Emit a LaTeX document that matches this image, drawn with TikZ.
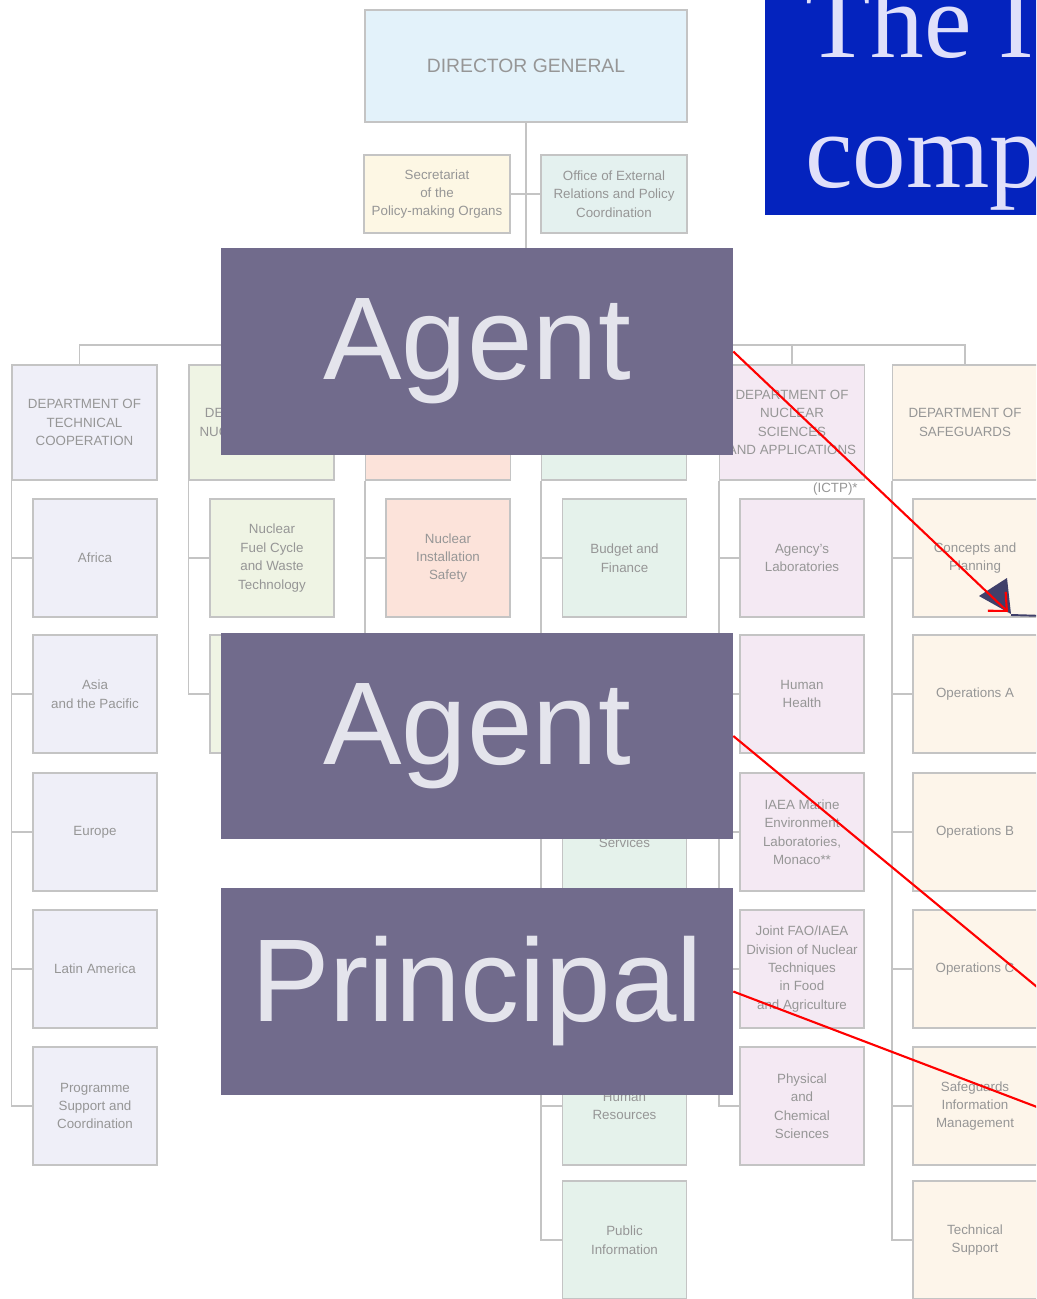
\documentclass[tikz,border=0pt]{standalone}
\usepackage{fontspec}
\setmainfont{Liberation Sans}
\newfontfamily\serifttl{Liberation Serif}
\usetikzlibrary{arrows.meta}

\definecolor{dgblue}{RGB}{227,242,250}
\definecolor{secyel}{RGB}{253,247,228}
\definecolor{oerteal}{RGB}{228,241,239}
\definecolor{tclav}{RGB}{239,239,248}
\definecolor{negreen}{RGB}{239,244,228}
\definecolor{nssalm}{RGB}{252,227,218}
\definecolor{mgmint}{RGB}{229,242,235}
\definecolor{napink}{RGB}{244,233,243}
\definecolor{sgcream}{RGB}{253,245,234}
\definecolor{boxline}{RGB}{196,196,196}
\definecolor{orgtext}{RGB}{150,150,150}
\definecolor{slate}{RGB}{113,107,140}
\definecolor{slatetext}{RGB}{228,228,236}
\definecolor{titleblue}{RGB}{4,35,190}
\definecolor{titletext}{RGB}{224,224,250}
\definecolor{navytip}{RGB}{64,64,106}

\begin{document}
\begin{tikzpicture}[x=0.02cm, y=-0.02cm,
    orgbox/.style={rectangle, draw=boxline, line width=0.8pt, text=orgtext, align=center, inner sep=0pt, font=\fontsize{7.6}{10.5}\selectfont},
    deptbox/.style={orgbox, minimum width=2.9cm, minimum height=2.3cm},
    subbox/.style={orgbox, minimum width=2.48cm, minimum height=2.36cm},
    topbox/.style={orgbox, minimum width=2.92cm, minimum height=1.56cm},
    orgline/.style={draw=boxline, line width=0.8pt},
    role/.style={rectangle, fill=slate, text=slatetext, minimum width=10.24cm, minimum height=4.14cm, inner sep=0pt, font=\fontsize{67}{80}\selectfont},
    ttl/.style={anchor=base west, inner sep=0pt, text=titletext, font=\serifttl\fontsize{61}{74}\selectfont},
    pointer/.style={red, line width=1.2pt, -{Straight Barb[length=0.28cm, width=0.52cm]}}]

    \useasboundingbox (0,0) rectangle (1036,1299);
    \clip (0,0) rectangle (1036,1299);

    \draw
    (526,66) node[orgbox, fill=dgblue, minimum width=6.44cm, minimum height=2.24cm, font=\fontsize{11}{13}\selectfont](DG){DIRECTOR GENERAL}
    (437,194) node[topbox, fill=secyel](SEC){Secretariat\\of the\\Policy-making Organs}
    (614,194) node[topbox, fill=oerteal](OER){Office of External\\Relations and Policy\\Coordination}
    (84.5,422.5) node[deptbox, fill=tclav](TC){DEPARTMENT OF\\TECHNICAL\\COOPERATION}
    (261.5,422.5) node[deptbox, fill=negreen](NE){DEPARTMENT OF\\NUCLEAR ENERGY}
    (438,422.5) node[deptbox, fill=nssalm](NS){}
    (614,422.5) node[deptbox, fill=mgmint](MG){}
    (792,422.5) node[deptbox, fill=napink](NA){DEPARTMENT OF\\NUCLEAR\\SCIENCES\\AND APPLICATIONS}
    (965,422.5) node[deptbox, fill=sgcream](SG){DEPARTMENT OF\\SAFEGUARDS}
    (858,489) node[anchor=east, inner sep=0pt, text=orgtext, font=\fontsize{7.6}{10.5}\selectfont](ICTP){(ICTP)*}
    (95,558) node[subbox, fill=tclav](TC1){Africa}
    (95,694) node[subbox, fill=tclav](TC2){Asia\\and the Pacific}
    (95,832) node[subbox, fill=tclav](TC3){Europe}
    (95,969) node[subbox, fill=tclav](TC4){Latin America}
    (95,1106) node[subbox, fill=tclav](TC5){Programme\\Support and\\Coordination}
    (272,558) node[subbox, fill=negreen](NE1){Nuclear\\Fuel Cycle\\and Waste\\Technology}
    (272,694) node[subbox, fill=negreen](NE2){}
    (448,558) node[subbox, fill=nssalm](NS1){Nuclear\\Installation\\Safety}
    (624.5,558) node[subbox, fill=mgmint](MG1){Budget and\\Finance}
    (624.5,832) node[subbox, fill=mgmint](MG3){}
    (624.5,843) node[inner sep=0pt, text=orgtext, font=\fontsize{7.6}{10.5}\selectfont](MG3t){Services}
    (624.5,1106) node[subbox, fill=mgmint](MG5){Human\\Resources}
    (624.5,1240) node[subbox, fill=mgmint](MG6){Public\\Information}
    (802,558) node[subbox, fill=napink](NA1){Agency's\\Laboratories}
    (802,694) node[subbox, fill=napink](NA2){Human\\Health}
    (802,832) node[subbox, fill=napink](NA3){IAEA Marine\\Environment\\Laboratories,\\Monaco**}
    (802,969) node[subbox, fill=napink](NA4){Joint FAO/IAEA\\Division of Nuclear\\Techniques\\in Food\\and Agriculture}
    (802,1106) node[subbox, fill=napink](NA5){Physical\\and\\Chemical\\Sciences}
    (975,558) node[subbox, fill=sgcream](SG1){Concepts and\\Planning}
    (975,694) node[subbox, fill=sgcream](SG2){Operations A}
    (975,832) node[subbox, fill=sgcream](SG3){Operations B}
    (975,969) node[subbox, fill=sgcream](SG4){Operations C}
    (975,1106) node[subbox, fill=sgcream](SG5){Safeguards\\Information\\Management}
    (975,1240) node[subbox, fill=sgcream](SG6){Technical\\Support};

    \coordinate (BAR) at (526,345);
    \coordinate (NSend) at (386,692);

    \draw[orgline] (DG) -- (BAR);
    \draw[orgline] (SEC) -- (OER);
    \draw[orgline] ([xshift=-0.1cm]TC.north) |- (BAR) -| (SG.north);
    \draw[orgline] (NE.north) -- (NE.north |- BAR);
    \draw[orgline] (NS.north) -- (NS.north |- BAR);
    \draw[orgline] (MG.north) -- (MG.north |- BAR);
    \draw[orgline] (NA.north) -- (NA.north |- BAR);

    \draw[orgline] (TC.south west) |- (TC5);
    \draw[orgline] (TC1.west) -- (TC1.west -| TC.west);
    \draw[orgline] (TC2.west) -- (TC2.west -| TC.west);
    \draw[orgline] (TC3.west) -- (TC3.west -| TC.west);
    \draw[orgline] (TC4.west) -- (TC4.west -| TC.west);
    \draw[orgline] (NE.south west) |- (NE2);
    \draw[orgline] (NE1.west) -- (NE1.west -| NE.west);
    \draw[orgline] (NS.south west) |- (NSend);
    \draw[orgline] (NS1.west) -- (NS1.west -| NS.west);
    \draw[orgline] (MG.south west) |- (MG6);
    \draw[orgline] (MG1.west) -- (MG1.west -| MG.west);
    \draw[orgline] (MG3.west) -- (MG3.west -| MG.west);
    \draw[orgline] (MG5.west) -- (MG5.west -| MG.west);
    \draw[orgline] (NA.south west) |- (NA5);
    \draw[orgline] (NA1.west) -- (NA1.west -| NA.west);
    \draw[orgline] (NA2.west) -- (NA2.west -| NA.west);
    \draw[orgline] (NA3.west) -- (NA3.west -| NA.west);
    \draw[orgline] (NA4.west) -- (NA4.west -| NA.west);
    \draw[orgline] (SG.south west) |- (SG6);
    \draw[orgline] (SG1.west) -- (SG1.west -| SG.west);
    \draw[orgline] (SG2.west) -- (SG2.west -| SG.west);
    \draw[orgline] (SG3.west) -- (SG3.west -| SG.west);
    \draw[orgline] (SG4.west) -- (SG4.west -| SG.west);
    \draw[orgline] (SG5.west) -- (SG5.west -| SG.west);

    \fill[titleblue] (765,-10) rectangle (1050,215);
    \draw
    (805,57) node[ttl](T1){The I}
    (805,187) node[ttl](T2){comp};

    \draw
    (477,351.5) node[role](AG1){Agent}
    (477,736) node[role](AG2){Agent}
    (477,991.5) node[role](PR){Principal};

    \fill[navytip] (979,596) -- (1007,578) -- (1011,614) -- cycle;
    \draw[navytip, line width=1.1pt] (1011,615) -- (1045,616);

    \coordinate (CP) at (1008,612);
    \coordinate (OP) at (1100,1039);
    \coordinate (SIM) at (1100,1131);
    \draw[pointer] (AG1.east) -- (CP);
    \draw[pointer] (AG2.east) -- (OP);
    \draw[pointer] (PR.east) -- (SIM);

\end{tikzpicture}
\end{document}
